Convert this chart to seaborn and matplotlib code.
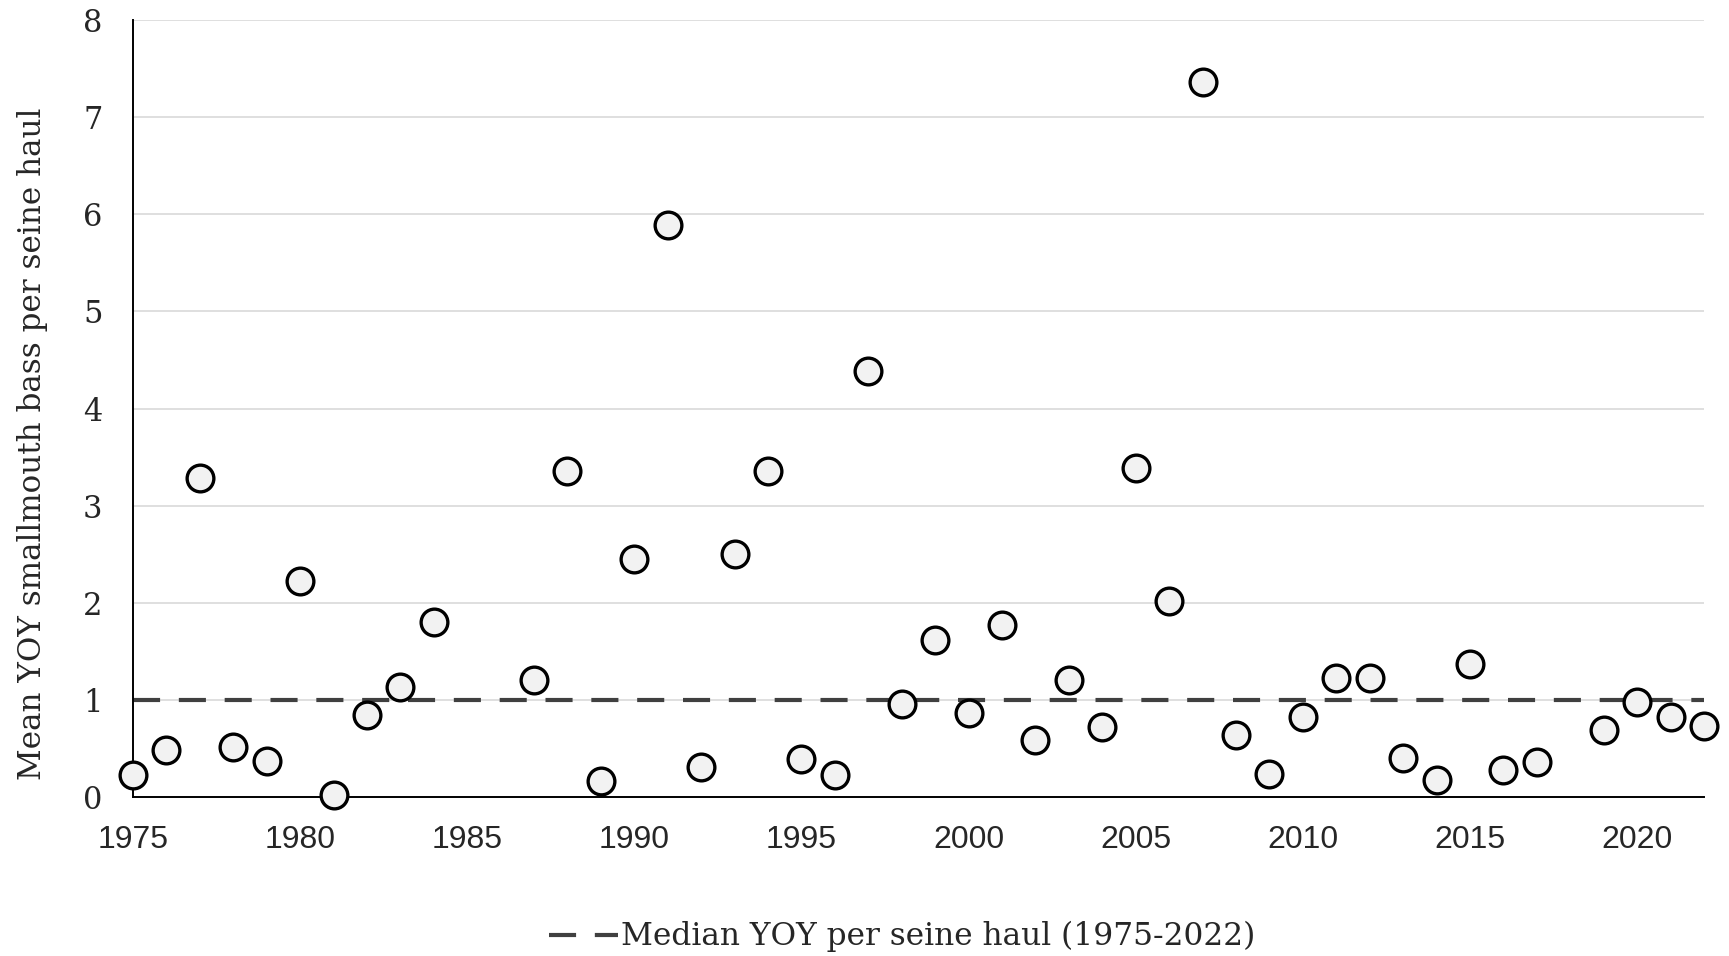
import matplotlib
matplotlib.use("Agg")
import matplotlib.pyplot as plt
import seaborn as sns
import pandas as pd

years = [1975, 1976, 1977, 1978, 1979, 1980, 1981, 1982, 1983, 1984,
         1987, 1988, 1989, 1990, 1991, 1992, 1993, 1994, 1995, 1996,
         1997, 1998, 1999, 2000, 2001, 2002, 2003, 2004, 2005, 2006,
         2007, 2008, 2009, 2010, 2011, 2012, 2013, 2014, 2015, 2016,
         2017, 2019, 2020, 2021, 2022]
mean_yoy = [0.23, 0.48, 3.28, 0.51, 0.37, 2.22, 0.02, 0.84, 1.13, 1.80,
            1.21, 3.36, 0.17, 2.45, 5.89, 0.31, 2.50, 3.36, 0.39, 0.23,
            4.39, 0.96, 1.62, 0.87, 1.77, 0.59, 1.21, 0.72, 3.39, 2.02,
            7.36, 0.64, 0.24, 0.82, 1.23, 1.23, 0.40, 0.18, 1.37, 0.28,
            0.36, 0.69, 0.98, 0.82, 0.73]
median_value = 1.0
median_label = "Median YOY per seine haul (1975-2022)"
y_label = "Mean YOY smallmouth bass per seine haul"
x_ticks = [1975, 1980, 1985, 1990, 1995, 2000, 2005, 2010, 2015, 2020]
y_ticks = [0, 1, 2, 3, 4, 5, 6, 7, 8]

df = pd.DataFrame({"year": years, "value": mean_yoy})
med_df = pd.DataFrame({"year": [1975, 2022], "value": [median_value, median_value]})

sns.set_theme(style="white")
serif = ["DejaVu Serif"]
sans_narrow = ["Liberation Sans Narrow", "Liberation Sans"]

fig = plt.figure(figsize=(17.29, 9.56), dpi=100)
ax = fig.add_axes([0.0769, 0.1663, 0.9086, 0.8127])

for yv in y_ticks:
    ax.axhline(yv, color="#d9d9d9", lw=1.2, zorder=0)

sns.lineplot(data=med_df, x="year", y="value", ax=ax, color="#404040",
             lw=3, label=median_label, zorder=2)
ax.lines[-1].set_dashes((6.5, 4.5))

sns.scatterplot(data=df, x="year", y="value", ax=ax, s=370,
                facecolor="#f2f2f2", edgecolor="black", linewidth=2.4,
                zorder=3, clip_on=False, legend=False)

ax.set_xlim(1975, 2022)
ax.set_ylim(0, 8)
ax.set_xticks(x_ticks)
ax.set_yticks(y_ticks)
ax.set_xticklabels([str(t) for t in x_ticks], family=sans_narrow, fontsize=23)
ax.set_yticklabels([str(t) for t in y_ticks], family=serif, fontsize=22)
ax.tick_params(axis="x", length=0, pad=20)
ax.tick_params(axis="y", length=0, pad=22)
ax.set_xlabel("")
ax.set_ylabel(y_label, family=serif, fontsize=22.3)
ax.yaxis.set_label_coords(-0.054, 0.455)

for s in ["top", "right"]:
    ax.spines[s].set_visible(False)
for s in ["left", "bottom"]:
    ax.spines[s].set_color("black")
    ax.spines[s].set_linewidth(1.4)

leg = ax.legend(loc="center", bbox_to_anchor=(0.522, 0.02),
                bbox_transform=fig.transFigure, frameon=False,
                prop={"family": serif, "size": 22.5}, handlelength=2.2,
                handletextpad=0.1)

fig.savefig("out.png", dpi=100)
